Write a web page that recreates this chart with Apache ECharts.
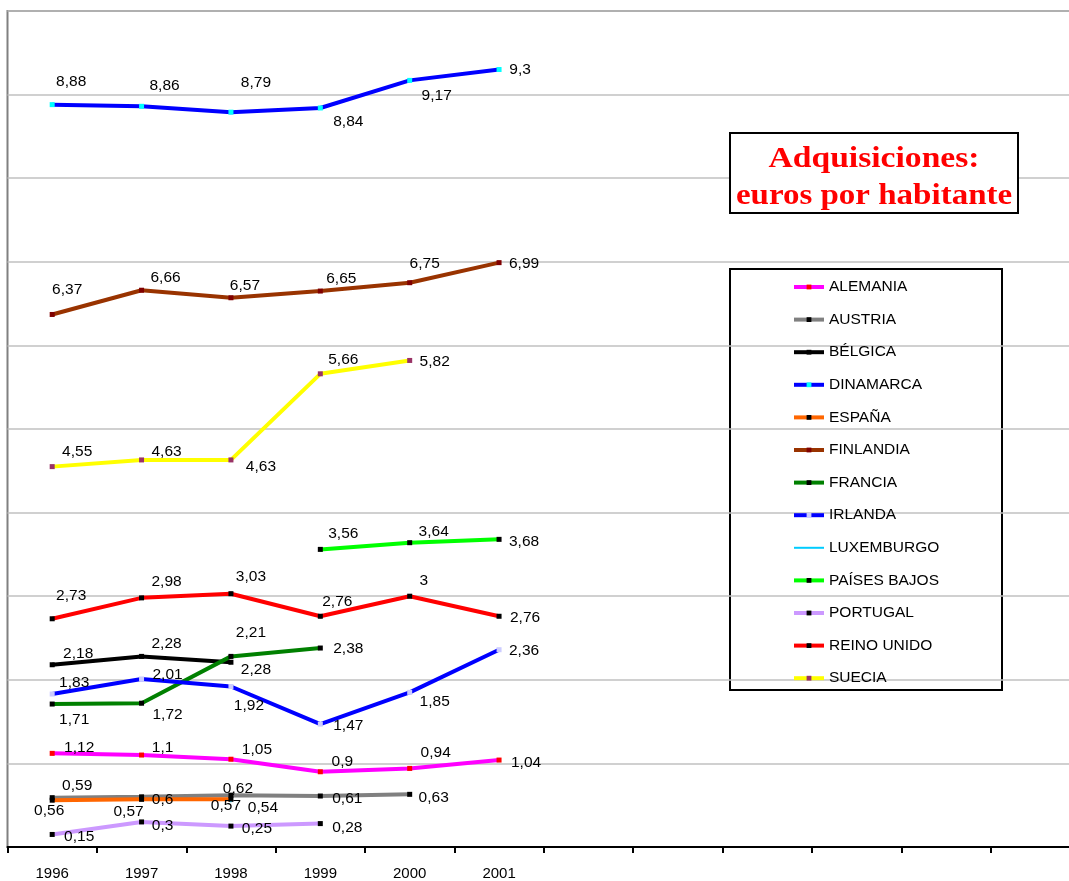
<!DOCTYPE html>
<html>
<head>
<meta charset="utf-8">
<script src="https://cdn.jsdelivr.net/npm/echarts@6/dist/echarts.min.js"></script>
<style>
html,body{margin:0;padding:0;background:#fff;overflow:hidden;width:1069px;height:881px;}
#chart{width:1082px;height:881px;}
</style>
</head>
<body>
<div id="chart"></div>
<script>
// ---- data ----
const categories = ['1996','1997','1998','1999','2000','2001','','','','','',''];
const alemania    = [1.12, 1.1, 1.05, 0.9, 0.94, 1.04];
const austria     = [0.59, 0.6, 0.62, 0.61, 0.63];
const belgica     = [2.18, 2.28, 2.21];
const dinamarca   = [8.88, 8.86, 8.79, 8.84, 9.17, 9.3];
const espana      = [0.56, 0.57, 0.57];
const finlandia   = [6.37, 6.66, 6.57, 6.65, 6.75, 6.99];
const francia     = [1.71, 1.72, 2.28, 2.38];
const irlanda     = [1.83, 2.01, 1.92, 1.47, 1.85, 2.36];
const luxemburgo  = [null, null, 0.54];
const paisesBajos = [null, null, null, 3.56, 3.64, 3.68];
const portugal    = [0.15, 0.3, 0.25, 0.28];
const reinoUnido  = [2.73, 2.98, 3.03, 2.76, 3, 2.76];
const suecia      = [4.55, 4.63, 4.63, 5.66, 5.82];

// ---- label placement (style only) ----
const labelOffsets = {
  alemania:    [[27,-6],[21,-7],[26,-10],[22,-10],[26,-16],[27,3]],
  austria:     [[25,-12],[21,3],[7,-6],[27,3],[24,3]],
  belgica:     [[26,-11],[25,-13],[20,-30]],
  dinamarca:   [[19,-23],[23,-21],[25,-29],[28,14],[27,15],[21,0]],
  espana:      [[-3,11],[-13,12],[-5,6]],
  finlandia:   [[15,-25],[24,-13],[14,-12],[21,-12],[15,-19],[25,1]],
  francia:     [[22,16],[26,12],[25,13],[28,1]],
  irlanda:     [[22,-11],[26,-4],[18,19],[28,2],[25,9],[25,1]],
  luxemburgo:  [null,null,[32,6]],
  paisesBajos: [null,null,null,[23,-16],[24,-11],[25,2]],
  portugal:    [[27,2],[21,4],[26,3],[27,4]],
  reinoUnido:  [[19,-23],[25,-16],[20,-17],[17,-15],[14,-15],[26,1]],
  suecia:      [[25,-15],[25,-8],[30,7],[23,-14],[25,1]]
};

const seriesDefs = [
  {key:'alemania',    name:'ALEMANIA',     data:alemania,    line:'#ff00ff', mark:'#ff0000'},
  {key:'austria',     name:'AUSTRIA',      data:austria,     line:'#808080', mark:'#000000'},
  {key:'belgica',     name:'BÉLGICA',      data:belgica,     line:'#000000', mark:'#000000'},
  {key:'dinamarca',   name:'DINAMARCA',    data:dinamarca,   line:'#0000ff', mark:'#00ffff'},
  {key:'espana',      name:'ESPAÑA',       data:espana,      line:'#ff6600', mark:'#000000'},
  {key:'finlandia',   name:'FINLANDIA',    data:finlandia,   line:'#993300', mark:'#800000'},
  {key:'francia',     name:'FRANCIA',      data:francia,     line:'#008000', mark:'#000000'},
  {key:'irlanda',     name:'IRLANDA',      data:irlanda,     line:'#0000ff', mark:'#ccccff'},
  {key:'luxemburgo',  name:'LUXEMBURGO',   data:luxemburgo,  line:'#00ccff', mark:'#00ccff', hidden:true},
  {key:'paisesBajos', name:'PAÍSES BAJOS', data:paisesBajos, line:'#00ff00', mark:'#000000'},
  {key:'portugal',    name:'PORTUGAL',     data:portugal,    line:'#cc99ff', mark:'#000000'},
  {key:'reinoUnido',  name:'REINO UNIDO',  data:reinoUnido,  line:'#ff0000', mark:'#000000'},
  {key:'suecia',      name:'SUECIA',       data:suecia,      line:'#ffff00', mark:'#993366'}
];

const fmt = v => String(v).replace('.', ',');

const series = seriesDefs.map(d => ({
  type:'line',
  name:d.name,
  symbol:'rect',
  symbolSize: d.hidden ? 1 : 5,
  connectNulls:false,
  color:d.line,
  lineStyle:{color:d.line, width: d.hidden ? 2 : 4},
  itemStyle:{color:d.mark},
  label:{
    show:true, position:'inside', align:'center', verticalAlign:'middle',
    color:'#000', fontFamily:'Liberation Sans', fontSize:15.5,
    formatter:p => p.value == null ? '' : fmt(p.value)
  },
  emphasis:{disabled:true},
  data:d.data.map((v,i) => {
    const off = labelOffsets[d.key][i];
    if (v == null) return null;
    return {value:v, label:{offset: off || [0,0]}};
  })
}));

const chart = echarts.init(document.getElementById('chart'), null, {renderer:'canvas'});
chart.setOption({
  animation:false,
  backgroundColor:'#ffffff',
  grid:{left:7.5, top:11, bottom:33.5, right:2, show:true, borderColor:'#808080', borderWidth:2},
  xAxis:{
    type:'category', data:categories, boundaryGap:true,
    axisLine:{lineStyle:{color:'#000', width:2}},
    axisTick:{show:true, length:6, lineStyle:{color:'#000', width:2}, interval:0},
    axisLabel:{interval:0, color:'#000', fontFamily:'Liberation Sans', fontSize:15, margin:19},
    splitLine:{show:false}
  },
  yAxis:{
    type:'value', min:0, max:10, interval:1,
    axisLine:{show:false}, axisTick:{show:false}, axisLabel:{show:false},
    splitLine:{lineStyle:{color:'#c0c0c0', width:1.5}}
  },
  legend:{
    orient:'vertical', left:787, top:274,
    itemWidth:30, itemHeight:6, itemGap:16.6,
    lineStyle:{width:'inherit'},
    textStyle:{fontFamily:'Liberation Sans', fontSize:15.5, color:'#000', lineHeight:16},
    selectedMode:false,
    data:seriesDefs.map(d => d.hidden ? {name:d.name, itemStyle:{opacity:0}} : d.name)
  },
  graphic:[
    {type:'rect', left:729, top:268, shape:{width:272, height:421},
     style:{fill:'#fff', stroke:'#000', lineWidth:2}, z:-1, silent:true},
    {type:'rect', left:729, top:132, shape:{width:288, height:80},
     style:{fill:'#fff', stroke:'#000', lineWidth:2}, z:10, silent:true},
    {type:'text', x:874, y:159, scaleX:1.12, z:11, silent:true,
     style:{text:'Adquisiciones:', fill:'#ff0000', font:'bold 30px "Liberation Serif"', align:'center', verticalAlign:'middle'}},
    {type:'text', x:874, y:196, scaleX:1.1, z:11, silent:true,
     style:{text:'euros por habitante', fill:'#ff0000', font:'bold 30px "Liberation Serif"', align:'center', verticalAlign:'middle'}}
  ],
  series:series
});
</script>
</body>
</html>
